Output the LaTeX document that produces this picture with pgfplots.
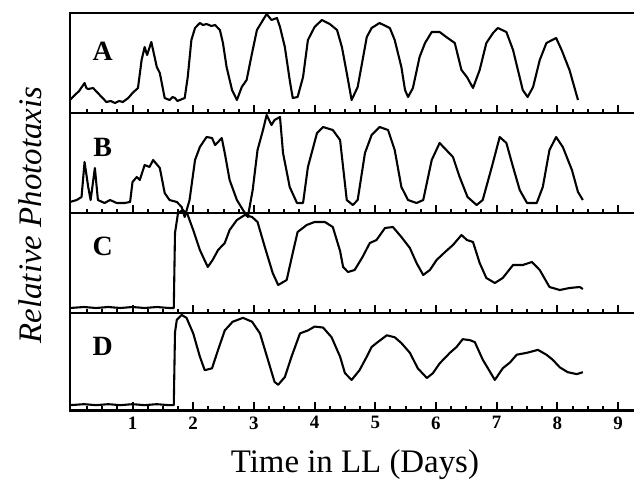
\documentclass[border=0pt]{standalone}
\usepackage{fontspec}
\setmainfont{Liberation Serif}
\usepackage{pgfplots}
\pgfplotsset{compat=1.18}
\tikzset{lab/.style={font=\bfseries\fontsize{28}{28}\selectfont},
  frame/.style={line width=3pt, line cap=rect}}
\begin{document}
\begin{tikzpicture}
\useasboundingbox (-70bp,13bp) rectangle (564bp,-468bp);
\pgfplotsset{
 panel/.style={
  width=562bp, height=100bp, scale only axis,
  xmin=-0.03, xmax=9.23, ymin=0, ymax=1,
  clip=false,
  axis line style={draw=none},
  ytick=\empty,
  xtick={1,...,9},
  minor xtick={0.25,0.5,...,9.0},
  xtick pos=left,
  tick align=inside,
  major tick length=8bp, minor tick length=4.5bp,
  major tick style={black, line width=2pt},
  minor tick style={black, line width=2pt},
  xticklabels={},
 },
 curve/.style={black, line width=2.1pt, mark=none, line join=round},
}
% Panel A
\begin{axis}[panel, at={(0,0)}, anchor=north west]
\draw[frame] (rel axis cs:0,1) -- (rel axis cs:1,1);
\draw[frame] (rel axis cs:0,0) -- (rel axis cs:1,0);
\draw[line width=2.4pt] (rel axis cs:0,0) -- (rel axis cs:0,1);
\addplot[curve] coordinates {(-0.03,0.13)(0.05,0.18)(0.12,0.22)(0.21,0.30)(0.24,0.25)(0.27,0.24)(0.35,0.25)(0.46,0.18)(0.57,0.11)(0.64,0.12)(0.71,0.10)(0.78,0.12)(0.84,0.11)(0.93,0.15)(1.0,0.20)(1.09,0.25)(1.15,0.53)(1.2,0.66)(1.24,0.58)(1.31,0.71)(1.4,0.46)(1.45,0.40)(1.53,0.15)(1.61,0.13)(1.66,0.16)(1.70,0.15)(1.74,0.12)(1.78,0.13)(1.86,0.15)(1.91,0.36)(1.97,0.73)(2.03,0.85)(2.11,0.90)(2.16,0.88)(2.22,0.89)(2.30,0.87)(2.36,0.88)(2.44,0.83)(2.49,0.70)(2.55,0.46)(2.64,0.23)(2.72,0.13)(2.80,0.26)(2.88,0.33)(2.97,0.60)(3.05,0.83)(3.13,0.91)(3.21,0.99)(3.29,0.93)(3.38,0.95)(3.43,0.86)(3.51,0.66)(3.59,0.33)(3.64,0.15)(3.72,0.16)(3.81,0.36)(3.89,0.73)(4.0,0.86)(4.12,0.93)(4.25,0.89)(4.37,0.83)(4.45,0.66)(4.53,0.40)(4.61,0.13)(4.71,0.26)(4.86,0.76)(4.94,0.85)(5.07,0.90)(5.24,0.85)(5.32,0.73)(5.43,0.46)(5.49,0.23)(5.54,0.16)(5.62,0.25)(5.73,0.56)(5.82,0.70)(5.93,0.81)(6.06,0.81)(6.17,0.76)(6.31,0.70)(6.42,0.43)(6.51,0.36)(6.61,0.25)(6.72,0.43)(6.83,0.70)(6.94,0.80)(7.02,0.85)(7.16,0.81)(7.27,0.63)(7.35,0.43)(7.43,0.23)(7.51,0.16)(7.60,0.26)(7.71,0.53)(7.82,0.70)(7.98,0.75)(8.07,0.63)(8.20,0.43)(8.34,0.13)};
\node[lab] at (rel axis cs:0.058,0.615) {A};
\end{axis}
% Panel B
\begin{axis}[panel, at={(0,-100bp)}, anchor=north west]
\draw[frame] (rel axis cs:0,0) -- (rel axis cs:1,0);
\draw[line width=2.4pt] (rel axis cs:0,0) -- (rel axis cs:0,1);
\addplot[curve] coordinates {(-0.03,0.11)(0.08,0.13)(0.16,0.16)(0.21,0.51)(0.27,0.26)(0.31,0.13)(0.38,0.45)(0.43,0.13)(0.54,0.10)(0.63,0.13)(0.74,0.10)(0.87,0.10)(0.96,0.11)(1.0,0.31)(1.07,0.36)(1.12,0.33)(1.2,0.48)(1.28,0.46)(1.34,0.53)(1.45,0.45)(1.53,0.20)(1.61,0.13)(1.73,0.11)(1.81,0.06)(1.86,-0.04)(1.94,0.13)(2.03,0.53)(2.11,0.66)(2.22,0.76)(2.31,0.75)(2.36,0.68)(2.41,0.71)(2.47,0.75)(2.52,0.60)(2.60,0.33)(2.72,0.13)(2.82,0.03)(2.90,-0.04)(2.98,0.23)(3.06,0.63)(3.15,0.83)(3.21,0.98)(3.29,0.88)(3.34,0.93)(3.43,0.96)(3.48,0.60)(3.59,0.26)(3.71,0.10)(3.81,0.10)(3.89,0.46)(4.04,0.80)(4.14,0.86)(4.30,0.83)(4.42,0.73)(4.53,0.13)(4.63,0.08)(4.71,0.13)(4.83,0.60)(4.94,0.78)(5.07,0.86)(5.21,0.83)(5.32,0.63)(5.43,0.26)(5.54,0.13)(5.68,0.10)(5.79,0.13)(5.93,0.53)(6.06,0.70)(6.17,0.63)(6.28,0.56)(6.39,0.36)(6.52,0.16)(6.67,0.08)(6.77,0.13)(6.92,0.46)(7.05,0.76)(7.16,0.70)(7.27,0.46)(7.38,0.23)(7.50,0.10)(7.66,0.10)(7.76,0.26)(7.87,0.63)(7.98,0.76)(8.09,0.66)(8.24,0.43)(8.34,0.21)(8.42,0.13)};
\node[lab] at (rel axis cs:0.058,0.66) {B};
\end{axis}
% Panel C
\begin{axis}[panel, at={(0,-200bp)}, anchor=north west]
\draw[frame] (rel axis cs:0,0) -- (rel axis cs:1,0);
\draw[line width=2.4pt] (rel axis cs:0,0) -- (rel axis cs:0,1);
\addplot[curve] coordinates {(-0.03,0.05)(0.2,0.06)(0.4,0.05)(0.6,0.06)(0.8,0.05)(1.0,0.06)(1.2,0.05)(1.4,0.06)(1.6,0.05)(1.68,0.05)(1.70,0.80)(1.75,1.0)(1.83,1.03)(1.91,0.98)(2.0,0.83)(2.11,0.63)(2.24,0.46)(2.32,0.53)(2.41,0.63)(2.52,0.70)(2.60,0.83)(2.72,0.93)(2.85,0.98)(2.97,0.96)(3.06,0.91)(3.18,0.66)(3.31,0.40)(3.40,0.28)(3.54,0.33)(3.64,0.60)(3.72,0.81)(3.87,0.88)(4.0,0.91)(4.17,0.91)(4.30,0.86)(4.42,0.62)(4.47,0.46)(4.55,0.41)(4.66,0.43)(4.79,0.56)(4.91,0.70)(5.02,0.73)(5.16,0.85)(5.29,0.86)(5.43,0.76)(5.57,0.65)(5.68,0.50)(5.79,0.38)(5.90,0.43)(6.01,0.53)(6.15,0.61)(6.28,0.68)(6.42,0.78)(6.51,0.73)(6.61,0.71)(6.72,0.50)(6.83,0.35)(6.97,0.30)(7.10,0.35)(7.27,0.48)(7.43,0.48)(7.58,0.51)(7.71,0.43)(7.87,0.26)(8.04,0.23)(8.20,0.25)(8.37,0.26)(8.42,0.24)};
\node[lab] at (rel axis cs:0.058,0.67) {C};
\end{axis}
% Panel D
\begin{axis}[panel, height=97bp, at={(0,-300bp)}, anchor=north west,
  xticklabels={1,2,3,4,5,6,7,8,9},
  xticklabel style={font=\bfseries\fontsize{19}{19}\selectfont, yshift=-3bp},
  /pgf/number format/assume math mode=true,
  xlabel={Time in LL (Days)},
  every axis x label/.style={at={(rel axis cs:0.507,0)}, anchor=center, yshift=-55bp, font=\fontsize{33}{33}\selectfont},
]
\draw[frame] (rel axis cs:0,0) -- (rel axis cs:1,0);
\draw[line width=2.4pt] (rel axis cs:0,0) -- (rel axis cs:0,1);
\addplot[curve] coordinates {(-0.03,0.05)(0.2,0.06)(0.4,0.05)(0.6,0.06)(0.8,0.05)(1.0,0.06)(1.2,0.05)(1.4,0.06)(1.6,0.05)(1.68,0.05)(1.70,0.80)(1.73,0.93)(1.81,0.98)(1.89,0.95)(2.0,0.79)(2.11,0.55)(2.19,0.41)(2.31,0.43)(2.41,0.62)(2.52,0.82)(2.65,0.91)(2.82,0.95)(2.97,0.91)(3.10,0.79)(3.23,0.52)(3.34,0.29)(3.40,0.26)(3.51,0.34)(3.62,0.55)(3.76,0.79)(3.89,0.82)(4.0,0.86)(4.14,0.85)(4.28,0.75)(4.42,0.55)(4.50,0.38)(4.61,0.31)(4.74,0.41)(4.86,0.55)(4.94,0.65)(5.04,0.70)(5.19,0.77)(5.32,0.75)(5.43,0.69)(5.57,0.59)(5.70,0.43)(5.85,0.33)(5.95,0.38)(6.06,0.48)(6.23,0.59)(6.34,0.65)(6.44,0.73)(6.56,0.72)(6.64,0.70)(6.77,0.52)(6.97,0.31)(7.10,0.43)(7.22,0.49)(7.33,0.57)(7.50,0.59)(7.68,0.62)(7.82,0.57)(7.92,0.52)(8.04,0.44)(8.17,0.39)(8.32,0.37)(8.42,0.39)};
\node[lab] at (rel axis cs:0.058,0.66) {D};
\end{axis}
\node[rotate=90, font=\itshape\fontsize{33}{33}\selectfont] at (-40bp,-202bp) {Relative Phototaxis};
\end{tikzpicture}
\end{document}
